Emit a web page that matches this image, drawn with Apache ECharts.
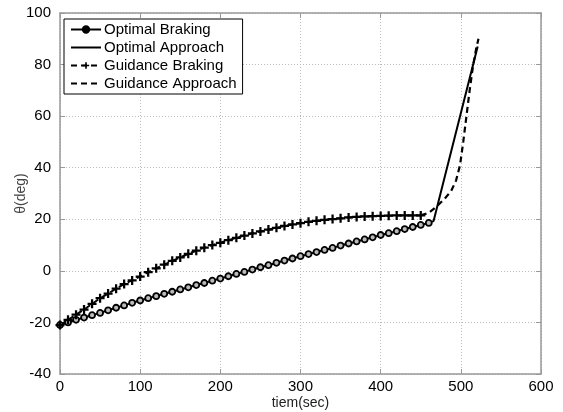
<!DOCTYPE html>
<html><head><meta charset="utf-8">
<script src="https://cdn.jsdelivr.net/npm/echarts@6/dist/echarts.min.js"></script>
<style>html,body{margin:0;padding:0;background:#fff}#c{width:563px;height:412px}</style>
</head><body><div id="c"></div>
<script>
var optBrakeT = [0,10,20,30,40,50,60,70,80,90,100,110,120,130,140,150,160,170,180,190,200,210,220,230,240,250,260,270,280,290,300,310,320,330,340,350,360,370,380,390,400,410,420,430,440,450,460];
var optBrakeV = [-21,-20,-19,-18.1,-17.2,-16.3,-15.3,-14.3,-13.4,-12.4,-11.5,-10.6,-9.8,-8.9,-8.1,-7.2,-6.4,-5.5,-4.7,-3.8,-3.0,-2.1,-1.2,-0.4,0.5,1.4,2.2,3.1,4.0,4.8,5.7,6.5,7.3,8.1,8.9,9.8,10.6,11.4,12.2,13.0,13.9,14.6,15.4,16.2,17.0,17.8,18.6];
var optApprT = [460,466,521];
var optApprV = [18.6,19.3,87];
var guidBrakeT = [0,10,20,30,40,50,60,70,80,90,100,110,120,130,140,150,160,170,180,190,200,210,220,230,240,250,260,270,280,290,300,310,320,330,340,350,360,370,380,390,400,410,420,430,440,450];
var guidBrakeV = [-21,-19,-17,-15,-12.8,-10.6,-8.8,-6.9,-5.1,-3.7,-2.2,-0.5,1.0,2.4,3.9,5.2,6.6,7.8,9.0,10.0,10.9,11.9,12.8,13.7,14.5,15.3,16.0,16.7,17.4,18.0,18.5,19.0,19.4,19.8,20.1,20.4,20.7,20.9,21.1,21.2,21.3,21.4,21.5,21.5,21.5,21.5];
var guidApprT = [450,460,470,480,488,494,499,503,507,511,515,519,522];
var guidApprV = [21.5,22.5,25,28,31,35,41,50,60,70,79,86,90];
var xTicks = [0,100,200,300,400,500,600];
var yTicks = [-40,-20,0,20,40,60,80,100];
var names = ['Optimal Braking','Optimal Approach','Guidance Braking','Guidance Approach'];

function pairs(t,v){return t.map(function(x,i){return [x,v[i]];});}
var plus = 'path://M3,0H5V3H8V5H5V8H3V5H0V3H3Z';
var font = 'Liberation Sans, Arial, sans-serif';
var chart = echarts.init(document.getElementById('c'), null, {renderer:'canvas'});
var axisCommon = {
  axisLine:{show:true,onZero:false,lineStyle:{color:'#999',width:1.5}},
  axisTick:{show:true,inside:true,length:5,lineStyle:{color:'#999'}},
  splitLine:{show:false},
  axisLabel:{show:false}
};
var noSym = {color:'rgba(0,0,0,0)',borderWidth:0,borderColor:'rgba(0,0,0,0)'};
chart.setOption({
  animation:false,
  backgroundColor:'#fff',
  textStyle:{fontFamily:font},
  grid:{left:60,right:22,top:13,bottom:38,containLabel:false,outerBoundsMode:'none'},
  legend:{
    show:true, orient:'vertical', left:64, top:19,
    data:[
      {name:names[0],itemStyle:{color:'#000',borderColor:'#000'}},
      {name:names[1],itemStyle:noSym},
      {name:names[2]},
      {name:names[3],itemStyle:noSym}
    ],
    itemWidth:30, itemHeight:8, itemGap:3,
    padding:[3,6,3,6],
    borderColor:'#000', borderWidth:1, backgroundColor:'#fff',
    textStyle:{fontFamily:font,fontSize:15,color:'#000',padding:[0,0,0,-2]}
  },
  xAxis:[{
    type:'value', min:xTicks[0], max:xTicks[xTicks.length-1], interval:100,
    name:'tiem(sec)', nameLocation:'middle', nameGap:22, nameMoveOverlap:false,
    nameTextStyle:{fontFamily:font,fontSize:14,color:'#222'},
    axisLine:{show:true,onZero:false,lineStyle:{color:'#999',width:1.5}},
    axisTick:{show:true,inside:true,length:5,lineStyle:{color:'#999'}},
    axisLabel:{show:true,fontFamily:font,fontSize:15,color:'#000',margin:5},
    splitLine:{show:true,lineStyle:{color:'#bbb',type:[1,2],width:1}}
  },Object.assign({type:'value',position:'top',min:0,max:600,interval:100},axisCommon)],
  yAxis:[{
    type:'value', min:yTicks[0], max:yTicks[yTicks.length-1], interval:20,
    name:'\u03b8(deg)', nameLocation:'middle', nameGap:32, nameMoveOverlap:false,
    nameTextStyle:{fontFamily:font,fontSize:14,color:'#444'},
    axisLine:{show:true,onZero:false,lineStyle:{color:'#999',width:1.5}},
    axisTick:{show:true,inside:true,length:5,lineStyle:{color:'#999'}},
    axisLabel:{show:true,fontFamily:font,fontSize:15,color:'#000',margin:9},
    splitLine:{show:true,lineStyle:{color:'#bbb',type:[1,2],width:1}}
  },Object.assign({type:'value',position:'right',min:-40,max:100,interval:20},axisCommon)],
  series:[
    {name:names[0],type:'line',data:pairs(optBrakeT,optBrakeV),symbol:'circle',symbolSize:6,showSymbol:true,
     lineStyle:{color:'#000',width:2},itemStyle:{color:'#bbb',borderColor:'#000',borderWidth:1.8},z:3},
    {name:names[1],type:'line',data:pairs(optApprT,optApprV),symbol:'none',showSymbol:false,
     lineStyle:{color:'#000',width:2},itemStyle:{color:'#000'}},
    {name:names[2],type:'line',data:pairs(guidBrakeT,guidBrakeV),symbol:plus,symbolSize:9,showSymbol:true,
     lineStyle:{color:'#000',width:2,type:[6,4]},itemStyle:{color:'#000'},z:3},
    {name:names[3],type:'line',data:pairs(guidApprT,guidApprV),symbol:'none',showSymbol:false,
     lineStyle:{color:'#000',width:2.2,type:[6,4]},itemStyle:{color:'#000'}}
  ]
});
</script></body></html>
